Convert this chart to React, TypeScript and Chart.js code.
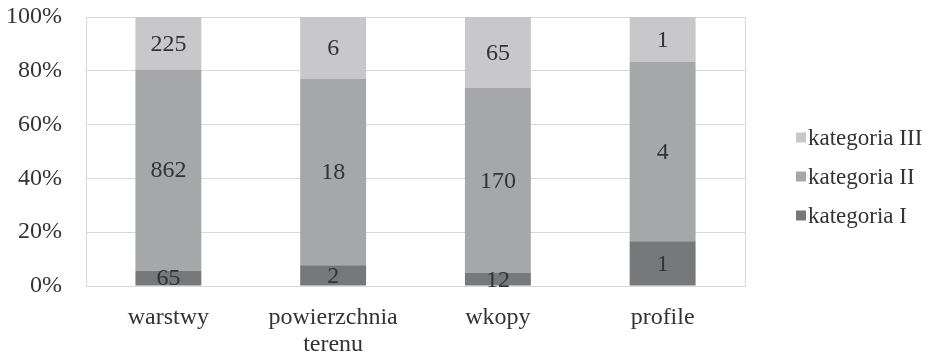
import React, { useEffect, useRef } from "react";
import { Chart, registerables } from "chart.js";

Chart.register(...registerables);

const categories: (string | string[])[] = ["warstwy", ["powierzchnia", "terenu"], "wkopy", "profile"];
const seriesNames = ["kategoria I", "kategoria II", "kategoria III"];
const kategoriaI = [65, 2, 12, 1];
const kategoriaII = [862, 18, 170, 4];
const kategoriaIII = [225, 6, 65, 1];
const seriesColors = ["#77787a", "#a6a7a9", "#c8c8ca"];
const yTicks = [0, 20, 40, 60, 80, 100];

const FONT = "Liberation Serif, Tinos, Times New Roman, Times, DejaVu Serif, serif";
const TEXT = "#333333";

export default function App() {
  const ref = useRef<HTMLCanvasElement | null>(null);

  useEffect(() => {
    const canvas = ref.current;
    if (!canvas) return;
    let chart: Chart | null = null;
    let cancelled = false;

    const counts = [kategoriaI, kategoriaII, kategoriaIII];
    const totals = categories.map((_, i) => counts.reduce((s, arr) => s + arr[i], 0));
    const datasets = counts.map((arr, k) => ({
      label: seriesNames[k],
      data: arr.map((v, i) => (v / totals[i]) * 100),
      counts: arr,
      backgroundColor: seriesColors[k],
      borderWidth: 0,
      categoryPercentage: 1,
      barPercentage: 0.4,
    }));

    // plot frame drawn on top of the grid
    const framePlugin = {
      id: "frame",
      beforeDatasetsDraw(c: any) {
        const { ctx, chartArea: a } = c;
        ctx.save();
        ctx.strokeStyle = "#d9d9d9";
        ctx.lineWidth = 1;
        ctx.strokeRect(Math.round(a.left) + 0.5, Math.round(a.top) + 0.5, Math.round(a.right - a.left), Math.round(a.bottom - a.top));
        ctx.restore();
      },
    };

    // count labels centred in each segment
    const valuePlugin = {
      id: "values",
      afterDatasetsDraw(c: any) {
        const { ctx } = c;
        ctx.save();
        ctx.font = `24px ${FONT}`;
        ctx.fillStyle = TEXT;
        ctx.textAlign = "center";
        ctx.textBaseline = "middle";
        c.data.datasets.forEach((ds: any, di: number) => {
          const meta = c.getDatasetMeta(di);
          meta.data.forEach((bar: any, i: number) => {
            const y = (bar.y + bar.base) / 2;
            ctx.fillText(String(ds.counts[i]), bar.x, y + 1);
          });
        });
        ctx.restore();
      },
    };

    // legend at the right, top entry = last series
    const legendPlugin = {
      id: "sideLegend",
      afterDraw(c: any) {
        const { ctx, chartArea: a, height } = c;
        const n = seriesNames.length;
        const step = 39;
        const cy = height / 2;
        const x0 = a.right + 51;
        ctx.save();
        ctx.font = `23px ${FONT}`;
        ctx.textBaseline = "middle";
        ctx.textAlign = "left";
        for (let r = 0; r < n; r++) {
          const k = n - 1 - r;
          const y = cy + (r - (n - 1) / 2) * step;
          ctx.fillStyle = seriesColors[k];
          ctx.fillRect(x0, y - 6, 10, 10);
          ctx.fillStyle = TEXT;
          ctx.fillText(seriesNames[k], x0 + 12, y);
        }
        ctx.restore();
      },
    };

    const build = () => {
      if (cancelled) return;
      chart = new Chart(canvas, {
        type: "bar",
        data: { labels: categories as any, datasets: datasets as any },
        options: {
          animation: false,
          responsive: false,
          layout: { padding: { left: 6, right: 185, top: 17, bottom: 0 } },
          plugins: { legend: { display: false }, tooltip: { enabled: false } },
          scales: {
            x: {
              stacked: true,
              grid: { display: false, drawTicks: false },
              border: { display: false },
              ticks: { color: TEXT, font: { family: FONT, size: 24, lineHeight: 1.125 }, padding: 18, maxRotation: 0, autoSkip: false },
              afterFit(scale: any) {
                scale.height = 69;
                scale.paddingLeft = 0;
                scale.paddingRight = 0;
              },
            },
            y: {
              stacked: true,
              min: 0,
              max: 100,
              afterBuildTicks(scale: any) {
                scale.ticks = yTicks.map((v) => ({ value: v }));
              },
              grid: { color: "#d9d9d9", drawTicks: false },
              border: { display: false },
              ticks: {
                color: TEXT,
                font: { family: FONT, size: 24 },
                padding: 24,
                callback: (v: any) => `${v}%`,
              },
              afterFit(scale: any) {
                scale.width = 80;
                scale.paddingTop = 0;
                scale.paddingBottom = 0;
              },
            },
          },
        },
        plugins: [framePlugin, valuePlugin, legendPlugin],
      });
    };

    const fonts: any = (document as any).fonts;
    if (fonts && fonts.load) {
      Promise.all([fonts.load(`24px ${FONT}`), fonts.load(`23px ${FONT}`)])
        .catch(() => undefined)
        .then(build);
    } else {
      build();
    }

    return () => {
      cancelled = true;
      if (chart) chart.destroy();
    };
  }, []);

  return (
    <div style={{ position: "absolute", left: 0, top: 0, width: 930, height: 355, background: "#fff", fontFamily: FONT }}>
      <canvas ref={ref} width={930} height={355} />
    </div>
  );
}
